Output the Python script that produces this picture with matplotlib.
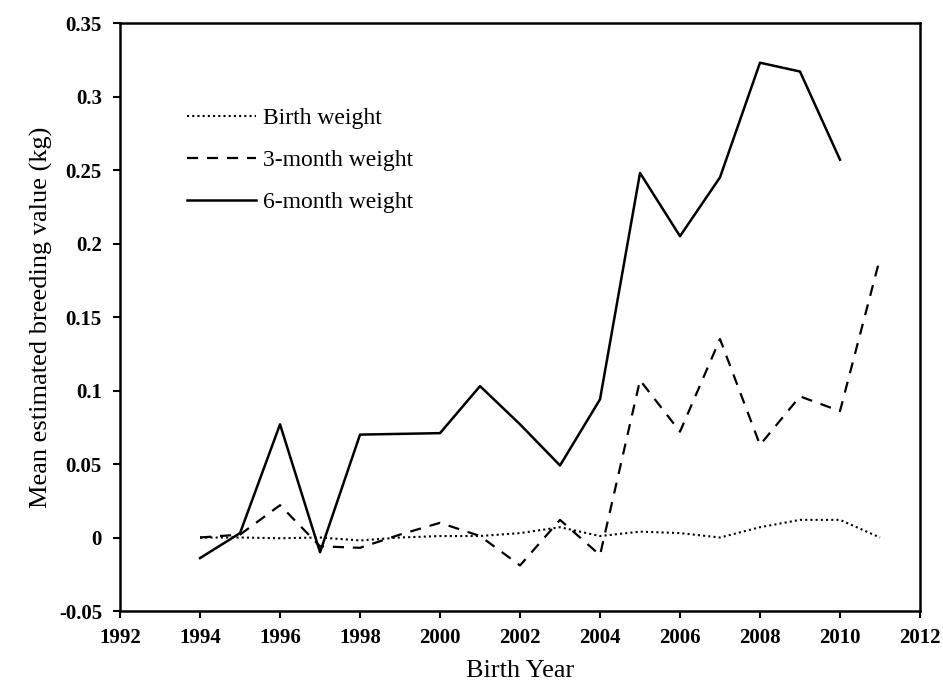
import matplotlib
matplotlib.use("Agg")
import matplotlib.pyplot as plt

years = list(range(1994, 2012))
birth = [0.0, 0.0, -0.0005, 0.0, -0.002, 0.0, 0.001, 0.001, 0.003, 0.007, 0.001,
         0.004, 0.003, 0.0, 0.007, 0.012, 0.012, 0.0]
month3 = [0.0, 0.002, 0.022, -0.006, -0.007, 0.002, 0.010, 0.001, -0.019, 0.012, -0.012,
          0.107, 0.072, 0.135, 0.063, 0.096, 0.086, 0.19]
years6 = list(range(1994, 2011))
month6 = [-0.014, 0.003, 0.077, -0.010, 0.070, 0.0705, 0.071, 0.103, 0.077, 0.049, 0.094,
          0.248, 0.205, 0.245, 0.323, 0.317, 0.257]

plt.rcParams['font.family'] = ['Liberation Serif', 'DejaVu Serif']

fig = plt.figure(figsize=(9.43, 6.83), dpi=100)
ax = fig.add_axes([0.1273, 0.1054, 0.8483, 0.8609])

ax.plot(years, birth, color='black', lw=1.5, ls=(0, (1, 1.5)), label='Birth weight')
ax.plot(years, month3, color='black', lw=1.6, ls=(0, (5, 4)), label='3-month weight')
ax.plot(years6, month6, color='black', lw=1.8, ls='-', label='6-month weight')

ax.set_xlim(1992, 2012)
ax.set_ylim(-0.05, 0.35)
ax.set_xticks(range(1992, 2013, 2))
yt = [-0.05, 0, 0.05, 0.1, 0.15, 0.2, 0.25, 0.3, 0.35]
ax.set_yticks(yt)
ax.set_yticklabels(['-0.05', '0', '0.05', '0.1', '0.15', '0.2', '0.25', '0.3', '0.35'])
for lab in ax.get_xticklabels() + ax.get_yticklabels():
    lab.set_fontweight('bold')
    lab.set_fontsize(15)
ax.tick_params(direction='out', length=5, width=1.5)
ax.tick_params(axis='y', pad=8)
ax.tick_params(axis='x', pad=7)
for s in ax.spines.values():
    s.set_linewidth(1.8)

ax.set_xlabel('Birth Year', fontsize=19, labelpad=9)
ax.set_ylabel('Mean estimated breeding value (kg)', fontsize=19, labelpad=4)

leg = ax.legend(loc='upper left', bbox_to_anchor=(0.072, 0.872), frameon=False, fontsize=17,
                handlelength=2.9, handletextpad=0.3, labelspacing=0.86, borderaxespad=0)

fig.savefig('out.png', dpi=100)
